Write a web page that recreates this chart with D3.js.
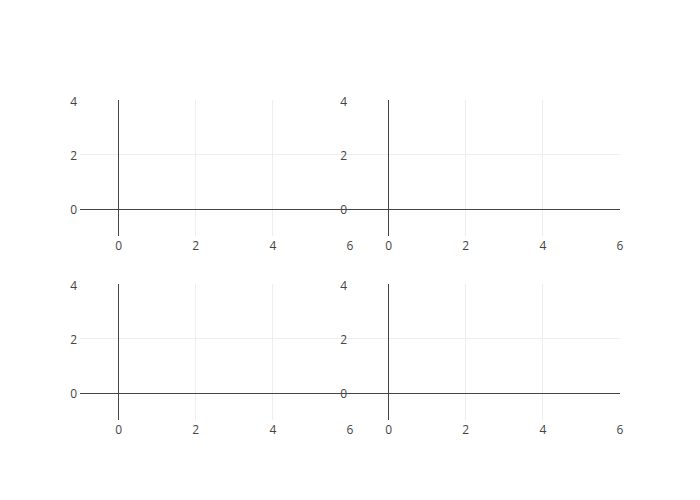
<!DOCTYPE html>
<html><head><meta charset="utf-8">
<script src="https://cdn.jsdelivr.net/npm/d3@7"></script>
<style>body{margin:0;background:#fff}text{font-family:"Open Sans",sans-serif}</style>
</head><body>
<svg id="c" width="700" height="500"></svg>
<script>
const xDomain = [-1, 6];
const yDomain = [-1, 4];
const xTicks = [0, 2, 4, 6];
const yTicks = [0, 2, 4];
const panels = [
  {name: "xy", col: 0, row: 0},
  {name: "x2y2", col: 1, row: 0},
  {name: "x3y3", col: 0, row: 1},
  {name: "x4y4", col: 1, row: 1}
];
const svg = d3.select("#c");
const L = 80, T = 100, W = 540, H = 320;
const colW = W / 2;
const rowH = H * 0.425;
panels.forEach(p => {
  const x0 = L + p.col * colW, x1 = x0 + colW;
  const y0 = p.row === 0 ? T : T + H - rowH, y1 = y0 + rowH;
  const x = d3.scaleLinear().domain(xDomain).range([x0, x1]);
  const y = d3.scaleLinear().domain(yDomain).range([y1, y0]);
  const g = svg.append("g");
  const px = v => Math.floor(x(v)) + 0.5;
  const py = v => Math.round(y(v)) + 0.5;
  g.selectAll(".gx").data(xTicks.filter(t => t !== 0 && t !== xDomain[1])).join("line")
    .attr("x1", px).attr("x2", px)
    .attr("y1", y0).attr("y2", y1).attr("stroke", "#eee").attr("stroke-width", 1);
  g.selectAll(".gy").data(yTicks.filter(t => t !== 0 && t !== yDomain[1])).join("line")
    .attr("y1", py).attr("y2", py)
    .attr("x1", x0).attr("x2", x1).attr("stroke", "#eee").attr("stroke-width", 1);
  g.append("line").attr("x1", x0).attr("x2", x1)
    .attr("y1", py(0)).attr("y2", py(0))
    .attr("stroke", "#444").attr("stroke-width", 1);
  g.append("line").attr("y1", y0).attr("y2", y1)
    .attr("x1", px(0)).attr("x2", px(0))
    .attr("stroke", "#444").attr("stroke-width", 1);
  g.selectAll(".tx").data(xTicks).join("text")
    .attr("x", d => x(d)).attr("y", y1 + 14)
    .attr("text-anchor", "middle").attr("font-size", 12).attr("fill", "#444").text(d => d);
  g.selectAll(".ty").data(yTicks).join("text")
    .attr("x", x0 - 3).attr("y", d => y(d) + 5.5)
    .attr("text-anchor", "end").attr("font-size", 12).attr("fill", "#444").text(d => d);
});
</script>
</body></html>
